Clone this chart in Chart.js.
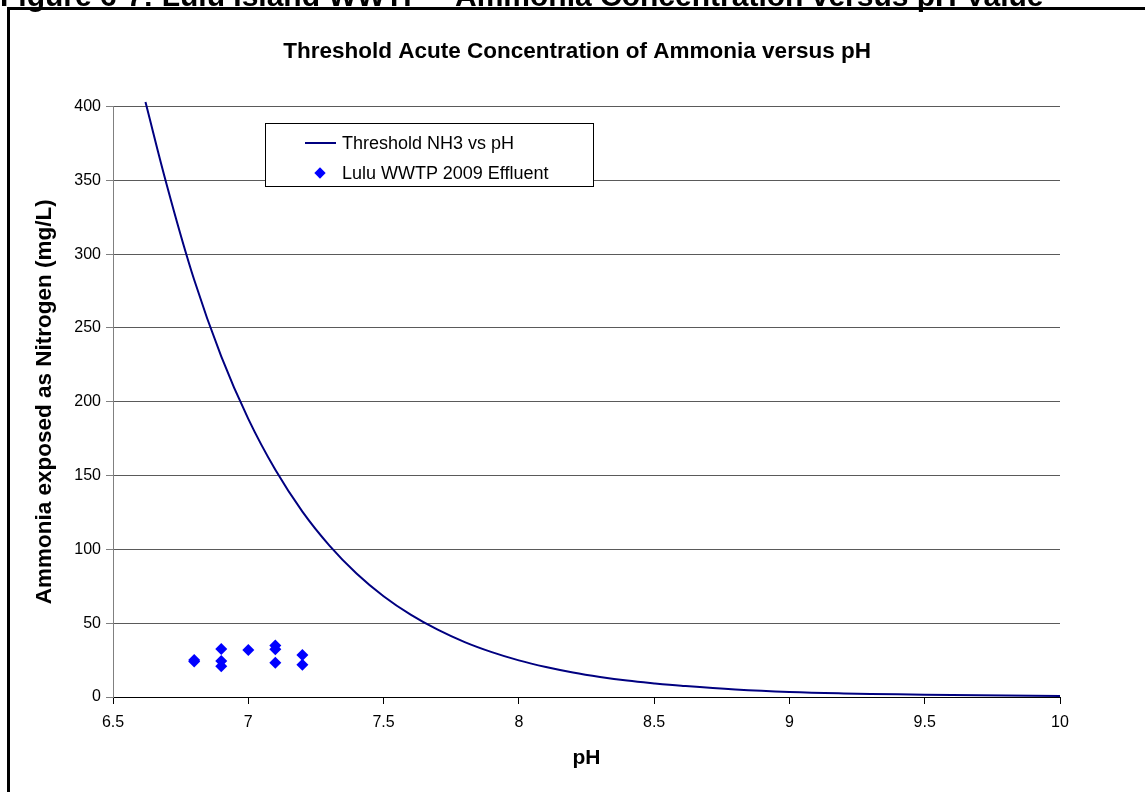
<!DOCTYPE html>
<html>
<head>
<meta charset="utf-8">
<script src="https://cdn.jsdelivr.net/npm/chart.js@4.4.1/dist/chart.umd.min.js"></script>
<style>
  body { margin: 0; background: #fff; font-family: Arial, "Liberation Sans", sans-serif; }
  #wrap { position: absolute; left: 0; top: 0; width: 1145px; height: 792px; }
  #heading { position: absolute; left: 0; top: -19px; font: bold 30px Arial, "Liberation Sans", sans-serif; line-height: 1; white-space: nowrap; color: #000; }
  #frame { position: absolute; left: 7px; top: 7px; width: 1200px; height: 900px; border-left: 3px solid #000; border-top: 3px solid #000; pointer-events: none; }
  #tick { position: absolute; left: 920px; top: 0; width: 2px; height: 8px; background: #000; }
  #legend { position: absolute; left: 265px; top: 123px; width: 327px; height: 62px; border: 1px solid #000; background: #fff; font: 18px Arial, "Liberation Sans", sans-serif; color: #000; }
  .row { position: absolute; left: 0; height: 24px; line-height: 24px; white-space: nowrap; }
  .row span.txt { position: absolute; left: 76px; }
  .sample-line { position: absolute; left: 39px; top: 11px; width: 31px; height: 2px; background: #000080; }
  .sample-dot { position: absolute; left: 50px; top: 8px; width: 8px; height: 8px; background: #0000ff; transform: rotate(45deg); }
</style>
</head>
<body>
<div id="wrap">
  <canvas id="myChart"></canvas>
</div>
<div id="heading">Figure 6-7: Lulu Island WWTP – Ammonia Concentration versus pH Value</div>
<div id="frame"></div>
<div id="tick"></div>
<div id="legend"></div>
<script>
// threshold curve
var thresholdPH = [6.62, 6.7, 6.8, 6.9, 7.0, 7.1, 7.2, 7.3, 7.4, 7.5, 7.6, 7.7, 7.8, 7.9, 8.0, 8.1, 8.2, 8.3, 8.4, 8.5, 8.6, 8.8, 9.0, 9.2, 9.4, 9.6, 9.8, 10.0];
var thresholdNH3 = [403, 346, 282.6, 230.8, 188.4, 153.9, 125.6, 102.6, 83.7, 68.3, 55.8, 45.6, 37.2, 30.4, 24.8, 20.3, 16.6, 13.6, 11.1, 9.2, 7.6, 5.1, 3.4, 2.4, 1.8, 1.3, 0.95, 0.7];

// effluent samples
var effluentPH = [6.8, 6.8, 6.9, 6.9, 6.9, 7.0, 7.1, 7.1, 7.1, 7.2, 7.2];
var effluentNH3 = [24, 25, 32.5, 24.4, 20.8, 31.8, 34.9, 32.3, 23.2, 28.5, 21.9];

var seriesNames = ["Threshold NH3 vs pH", "Lulu WWTP 2009 Effluent"];
var chartTitle = "Threshold Acute Concentration of Ammonia versus pH";
var xTitle = "pH";
var yTitle = "Ammonia exposed as Nitrogen (mg/L)";

function toPoints(xs, ys) {
  return xs.map(function(x, i) { return { x: x, y: ys[i] }; });
}

document.addEventListener("DOMContentLoaded", function() {
  var ctx = document.getElementById("myChart");

  var myChart = new Chart(ctx, {
    type: "scatter",
    data: {
      datasets: [
        {
          label: seriesNames[0],
          data: toPoints(thresholdPH, thresholdNH3),
          showLine: true,
          borderColor: "#000080",
          backgroundColor: "#000080",
          borderWidth: 2,
          pointRadius: 0,
          tension: 0.4,
          clip: 8,
          order: 2
        },
        {
          label: seriesNames[1],
          data: toPoints(effluentPH, effluentNH3),
          showLine: false,
          pointStyle: "rectRot",
          pointRadius: 6,
          borderWidth: 0,
          backgroundColor: "#0000ff",
          borderColor: "#0000ff",
          order: 1
        }
      ]
    },
    options: {
      responsive: true,
      maintainAspectRatio: false,
      animation: false,
      layout: { padding: { left: 0, right: 85, top: 0, bottom: 0 } },
      plugins: {
        legend: { display: false },
        tooltip: { enabled: false },
        title: {
          display: true,
          fullSize: false,
          // trailing spaces nudge the centred title a little left, as in the original
          text: chartTitle + "\u00a0\u00a0\u00a0",
          color: "#000",
          font: { family: "Arial", size: 22.5, weight: "bold" },
          padding: { top: 38.5, bottom: 41 }
        }
      },
      scales: {
        x: {
          type: "linear",
          min: 6.5,
          max: 10,
          ticks: {
            stepSize: 0.5,
            color: "#000",
            padding: 9,
            font: { family: "Arial", size: 16 },
            callback: function(v) { return String(v); }
          },
          grid: { drawOnChartArea: false, tickLength: 7, color: "#000" },
          border: { color: "#000", width: 1 },
          title: {
            display: true,
            text: xTitle,
            color: "#000",
            font: { family: "Arial", size: 21, weight: "bold" },
            padding: { top: 0, bottom: 21 }
          },
          afterFit: function(scale) { scale.height = 95; }
        },
        y: {
          min: 0,
          max: 400,
          ticks: {
            stepSize: 50,
            color: "#000",
            padding: 5,
            font: { family: "Arial", size: 16 }
          },
          grid: { color: "#5a5a5a", tickColor: "#808080", tickLength: 7 },
          border: { color: "#808080", width: 1 },
          title: {
            display: true,
            text: yTitle,
            color: "#000",
            font: { family: "Arial", size: 22.5, weight: "bold" },
            padding: { top: 31.5, bottom: 0 }
          },
          afterFit: function(scale) { scale.width = 113; }
        }
      }
    }
  });

  // legend box built from the dataset names
  var legend = document.getElementById("legend");
  myChart.data.datasets.forEach(function(ds, i) {
    var row = document.createElement("div");
    row.className = "row";
    row.style.top = (7 + i * 30) + "px";
    var mark = document.createElement("div");
    mark.className = ds.showLine ? "sample-line" : "sample-dot";
    var txt = document.createElement("span");
    txt.className = "txt";
    txt.textContent = ds.label;
    row.appendChild(mark);
    row.appendChild(txt);
    legend.appendChild(row);
  });
});
</script>
</body>
</html>
